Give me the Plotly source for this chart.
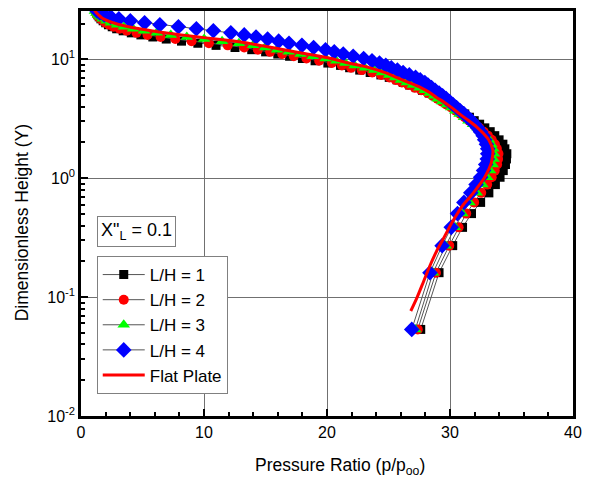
import plotly.graph_objects as go

# Dimensionless height levels shared by the four L/H profiles
height_y = [0.0535, 0.1605, 0.271, 0.386, 0.504, 0.626, 0.753, 0.884, 1.019, 1.159,
            1.303, 1.453, 1.607, 1.767, 1.933, 2.103, 2.280, 2.463, 2.652, 2.847,
            3.049, 3.258, 3.474, 3.697, 3.928, 4.167, 4.414, 4.669, 4.933, 5.206,
            5.488, 5.779, 6.081, 6.393, 6.716, 7.049, 7.394, 7.750, 8.119, 8.500,
            8.894, 9.302, 9.723, 10.159, 10.610, 11.075, 11.557, 12.055, 12.570, 13.103,
            13.653, 14.223, 14.811, 15.420, 16.049, 16.700, 17.373, 18.069, 18.788, 19.532,
            20.301, 21.097, 21.919, 22.770, 23.649, 24.558, 25.500]

# Pressure ratio profiles p/p_oo for each L/H
p_lh1 = [27.62, 29.11, 30.22, 31.02, 31.75, 32.49, 33.16, 33.69, 34.07, 34.33,
         34.51, 34.59, 34.62, 34.46, 34.30, 33.99, 33.64, 33.27, 32.83, 32.41,
         31.97, 31.58, 31.20, 30.78, 30.39, 29.94, 29.57, 29.20, 28.79, 28.31,
         27.76, 27.26, 26.71, 26.20, 25.70, 25.06, 24.38, 23.51, 22.66, 21.84,
         21.10, 20.07, 19.03, 18.00, 16.96, 16.00, 15.01, 13.88, 12.52, 10.98,
         9.50, 8.17, 6.93, 5.84, 4.87, 4.09, 3.43, 2.90, 2.54, 2.23,
         2.01, 1.80, 1.62, 1.48, 1.38, 1.30, 1.21]

p_lh2 = [27.38, 28.86, 29.94, 30.70, 31.32, 31.96, 32.54, 33.02, 33.39, 33.64,
         33.83, 33.91, 33.94, 33.81, 33.65, 33.39, 33.08, 32.74, 32.37, 31.96,
         31.56, 31.19, 30.83, 30.47, 30.10, 29.69, 29.31, 28.97, 28.59, 28.19,
         27.66, 27.14, 26.61, 26.09, 25.59, 25.08, 24.41, 23.68, 22.82, 21.95,
         21.21, 20.40, 19.36, 18.33, 17.30, 16.36, 15.38, 14.38, 13.27, 11.93,
         10.40, 8.99, 7.67, 6.47, 5.41, 4.51, 3.72, 3.14, 2.65, 2.30,
         2.00, 1.80, 1.60, 1.44, 1.30, 1.23, 1.17]

p_lh3 = [27.18, 28.62, 29.65, 30.41, 31.00, 31.59, 32.18, 32.64, 33.02, 33.26,
         33.47, 33.55, 33.58, 33.52, 33.36, 33.17, 32.89, 32.57, 32.25, 31.87,
         31.50, 31.13, 30.78, 30.43, 30.10, 29.75, 29.36, 29.01, 28.70, 28.34,
         27.95, 27.51, 26.98, 26.48, 26.01, 25.53, 25.05, 24.46, 23.84, 23.07,
         22.25, 21.49, 20.75, 19.89, 18.84, 17.85, 16.88, 15.93, 14.96, 13.99,
         12.84, 11.47, 10.01, 8.60, 7.30, 6.16, 5.12, 4.23, 3.49, 2.93,
         2.43, 2.07, 1.76, 1.56, 1.39, 1.25, 1.13]

p_lh4 = [26.89, 28.37, 29.36, 30.10, 30.61, 31.13, 31.69, 32.12, 32.49, 32.73,
         32.90, 33.03, 33.07, 33.07, 32.96, 32.82, 32.70, 32.48, 32.24, 31.99,
         31.73, 31.42, 31.14, 30.83, 30.53, 30.24, 29.96, 29.69, 29.40, 29.11,
         28.79, 28.50, 28.21, 27.95, 27.58, 27.20, 26.69, 26.19, 25.72, 25.23,
         24.78, 24.27, 23.66, 22.98, 22.13, 21.32, 20.59, 19.88, 18.91, 17.96,
         16.91, 16.07, 15.17, 14.23, 13.27, 12.18, 10.76, 9.38, 7.92, 6.41,
         5.17, 4.01, 3.08, 2.41, 1.89, 1.53, 1.30]

# Flat plate reference profile
flat_y = [0.0764, 0.0981, 0.136, 0.189, 0.242, 0.311, 0.415, 0.503, 0.598, 0.698,
          0.799, 0.931, 1.03, 1.32, 1.51, 1.72, 2.09, 2.35, 2.68, 3.07,
          3.44, 3.94, 4.34, 4.78, 5.26, 5.79, 6.38, 7.02, 7.73, 8.51,
          9.37, 10.31, 11.36, 11.80, 12.50, 12.99, 13.76, 14.30, 15.15, 16.06,
          16.69, 17.34, 18.37, 19.46, 20.22, 21.01, 22.26, 23.6, 24.5, 25.5, 27.0]
flat_p = [26.81, 27.30, 27.86, 28.42, 28.90, 29.47, 30.11, 30.59, 31.08, 31.64,
          32.09, 32.57, 32.85, 33.33, 33.45, 33.49, 33.17, 32.77, 32.20, 31.48,
          30.83, 30.11, 29.55, 28.90, 28.34, 27.62, 26.65, 25.69, 24.72, 23.43,
          21.66, 20.06, 17.80, 16.92, 15.63, 14.75, 13.38, 12.25, 10.16, 8.15,
          6.94, 5.82, 4.37, 3.24, 2.68, 2.20, 1.71, 1.43, 1.27, 1.15, 0.95]

series_names = ["L/H = 1", "L/H = 2", "L/H = 3", "L/H = 4"]
series_p = [p_lh1, p_lh2, p_lh3, p_lh4]
series_colors = ["#000000", "#ff0000", "#00ff00", "#0000ff"]
series_symbols = ["square", "circle", "triangle-up", "diamond"]
series_sizes = [9, 10, 11, 12]

y_tick_vals = [0.01, 0.1, 1, 10]
y_tick_text = ["10<sup>-2</sup>", "10<sup>-1</sup>", "10<sup>0</sup>", "10<sup>1</sup>"]
y_minor_vals = [m * 10 ** e for e in (-2, -1, 0) for m in range(2, 10)] + [20]

FONT = "Arial, Liberation Sans, sans-serif"

fig = go.Figure()

for name, p, color, symbol, size in zip(series_names, series_p, series_colors,
                                        series_symbols, series_sizes):
    fig.add_trace(go.Scatter(
        x=p, y=height_y, name=name, mode="lines+markers",
        line=dict(color="#555555", width=1),
        marker=dict(symbol=symbol, size=size, color=color, line=dict(width=0)),
    ))

fig.add_trace(go.Scatter(
    x=flat_p, y=flat_y, name="Flat Plate", mode="lines",
    line=dict(color="#ff0000", width=3, shape="spline", smoothing=0.8),
))

axis_common = dict(
    showline=True, linecolor="black", linewidth=2.5, mirror=True,
    ticks="inside", ticklen=7, tickwidth=2, tickcolor="black",
    showgrid=True, gridcolor="#707070", gridwidth=1,
    zeroline=False,
    tickfont=dict(family=FONT, size=16, color="black"),
)

fig.update_xaxes(
    range=[0, 40], tickmode="linear", tick0=0, dtick=10,
    minor=dict(ticks="inside", ticklen=4, tickwidth=2, tickcolor="black",
               dtick=2, showgrid=False),
    **axis_common,
)

fig.update_yaxes(
    type="log", range=[-2, 1.4065],
    tickmode="array", tickvals=y_tick_vals, ticktext=y_tick_text,
    minor=dict(ticks="inside", ticklen=4, tickwidth=1.5, tickcolor="black",
               tickmode="array", tickvals=y_minor_vals, showgrid=False),
    **axis_common,
)

# axis titles
fig.add_annotation(
    xref="paper", yref="paper", x=0.527, y=-0.125, xanchor="center", yanchor="middle",
    text="Pressure Ratio (p/p<sub>oo</sub>)", showarrow=False,
    font=dict(family=FONT, size=17.5, color="black"),
)
fig.add_annotation(
    xref="paper", yref="paper", x=-0.12, y=0.478, xanchor="center", yanchor="middle",
    text="Dimensionless Height (Y)", textangle=-90, showarrow=False,
    font=dict(family=FONT, size=17.5, color="black"),
)

fig.add_annotation(
    xref="paper", yref="paper", x=0.032, y=0.495, xanchor="left", yanchor="top",
    text="X\"<sub>L</sub> = 0.1", showarrow=False,
    font=dict(family=FONT, size=18, color="black"),
    bordercolor="#808080", borderwidth=1, borderpad=3, bgcolor="white",
)

fig.update_layout(
    width=590, height=491,
    margin=dict(l=81, r=12, t=8, b=75),
    paper_bgcolor="white", plot_bgcolor="white",
    font=dict(family=FONT, color="black"),
    legend=dict(
        x=0.032, y=0.395, xanchor="left", yanchor="top",
        bordercolor="#808080", borderwidth=1, bgcolor="white",
        font=dict(family=FONT, size=17, color="black"),
        itemwidth=42, tracegroupgap=0,
    ),
    showlegend=True,
)

fig.write_html("out.html")
